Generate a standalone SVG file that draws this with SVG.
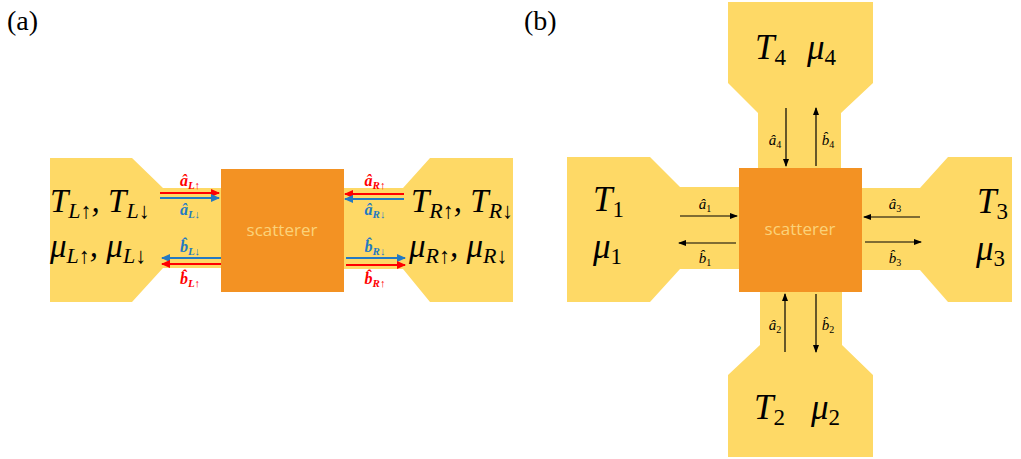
<svg xmlns="http://www.w3.org/2000/svg" width="1021" height="459" viewBox="0 0 1021 459">
<style>
.res{fill:#FED966;}
.sc{fill:#F39223;}
.sct{font-family:"Open Sans","Liberation Sans",sans-serif;font-size:17px;fill:#FBD27A;text-anchor:middle;}
.big{font-family:"Liberation Serif",serif;font-style:italic;font-size:33px;fill:#000;}
.bigb{font-family:"Liberation Serif",serif;font-style:italic;font-size:35px;fill:#000;}
.sub{font-size:22px;font-style:italic;}
.subn{font-size:23px;font-style:normal;}
.pl{font-family:"Liberation Serif",serif;font-size:28px;fill:#000;}
.la{font-family:"Liberation Serif",serif;font-style:italic;font-weight:bold;font-size:16px;text-anchor:middle;}
.la .s{font-size:11px;}
.red{fill:#FF0000;}
.blu{fill:#2479C2;}
.lb{font-family:"Liberation Serif",serif;font-style:italic;font-size:15px;fill:#000;text-anchor:middle;}
.lb .s{font-size:10px;font-style:normal;}
.ar{stroke-width:2;fill:none;}
.ak{stroke:#000;stroke-width:1.2;fill:none;marker-end:url(#mk);}
</style>
<defs>
<marker id="mr" markerUnits="userSpaceOnUse" markerWidth="10" markerHeight="8" refX="8" refY="4" orient="auto"><path d="M0,0 L9,4 L0,8 z" fill="#FF0000"/></marker>
<marker id="mb" markerUnits="userSpaceOnUse" markerWidth="10" markerHeight="8" refX="8" refY="4" orient="auto"><path d="M0,0 L9,4 L0,8 z" fill="#2479C2"/></marker>
<marker id="mk" markerUnits="userSpaceOnUse" markerWidth="8" markerHeight="6" refX="7" refY="3" orient="auto"><path d="M0,0 L8,3 L0,6 z" fill="#000"/></marker>
</defs>

<text class="pl" x="7" y="30">(a)</text>
<text class="pl" x="524" y="30">(b)</text>

<g id="a-left-reservoir">
<polygon class="res" points="50,158 132,158 163,188 223,188 223,268 163,268 132,302 50,302"/>
<text class="big" x="50" y="212">T<tspan class="sub" dy="6">L↑</tspan><tspan dy="-6">, T</tspan><tspan class="sub" dy="6">L↓</tspan></text>
<text class="big" x="50" y="257">μ<tspan class="sub" dy="6">L↑</tspan><tspan dy="-6">, μ</tspan><tspan class="sub" dy="6">L↓</tspan></text>
</g>
<g id="a-right-reservoir">
<polygon class="res" points="342,188 403,188 430,158 513,158 513,302 430,302 403,269 342,269"/>
<text class="big" x="411" y="212">T<tspan class="sub" dy="6">R↑</tspan><tspan dy="-6">, T</tspan><tspan class="sub" dy="6">R↓</tspan></text>
<text class="big" x="409" y="257">μ<tspan class="sub" dy="6">R↑</tspan><tspan dy="-6">, μ</tspan><tspan class="sub" dy="6">R↓</tspan></text>
</g>
<g id="a-scatterer">
<rect class="sc" x="221" y="169" width="123" height="123"/>
<text class="sct" x="282" y="236">scatterer</text>
</g>

<g id="b-left-reservoir">
<polygon class="res" points="567,157 650,157 680,187 741,187 741,269 680,269 650,302 567,302"/>
<text class="bigb" x="593" y="211">T<tspan class="subn" dy="6">1</tspan></text>
<text class="bigb" x="593" y="258">μ<tspan class="subn" dy="6">1</tspan></text>
</g>
<g id="b-right-reservoir">
<polygon class="res" points="860,188 920,188 948,157 1012,157 1012,302 948,302 920,270 860,270"/>
<text class="bigb" x="977" y="213">T<tspan class="subn" dy="6">3</tspan></text>
<text class="bigb" x="976" y="260">μ<tspan class="subn" dy="6">3</tspan></text>
</g>
<g id="b-top-reservoir">
<polygon class="res" points="728,2 873,2 873,83 841,113 841,170 758,170 758,113 728,83"/>
<text class="bigb" x="755" y="59">T<tspan class="subn" dy="6">4</tspan></text>
<text class="bigb" x="807" y="59">μ<tspan class="subn" dy="6">4</tspan></text>
</g>
<g id="b-bottom-reservoir">
<polygon class="res" points="760,290 842,290 842,345 873,375 873,457 728,457 728,375 760,345"/>
<text class="bigb" x="754" y="419">T<tspan class="subn" dy="6">2</tspan></text>
<text class="bigb" x="811" y="419">μ<tspan class="subn" dy="6">2</tspan></text>
</g>
<g id="b-scatterer">
<rect class="sc" x="739" y="168" width="123" height="124"/>
<text class="sct" x="800" y="235">scatterer</text>
</g>

<g id="connectors">
<line class="ar" stroke="#FF0000" marker-end="url(#mr)" x1="160" y1="193" x2="219" y2="193"/>
<line class="ar" stroke="#2479C2" marker-end="url(#mb)" x1="160" y1="198" x2="219" y2="198"/>
<line class="ar" stroke="#2479C2" marker-end="url(#mb)" x1="221" y1="258" x2="162" y2="258"/>
<line class="ar" stroke="#FF0000" marker-end="url(#mr)" x1="221" y1="264" x2="162" y2="264"/>
<line class="ar" stroke="#FF0000" marker-end="url(#mr)" x1="404" y1="194" x2="345" y2="194"/>
<line class="ar" stroke="#2479C2" marker-end="url(#mb)" x1="404" y1="199" x2="345" y2="199"/>
<line class="ar" stroke="#2479C2" marker-end="url(#mb)" x1="346" y1="258" x2="405" y2="258"/>
<line class="ar" stroke="#FF0000" marker-end="url(#mr)" x1="346" y1="265" x2="405" y2="265"/>

<line class="ak" x1="680" y1="216" x2="737" y2="216"/>
<line class="ak" x1="736" y1="243" x2="679" y2="243"/>
<line class="ak" x1="920" y1="217" x2="864" y2="217"/>
<line class="ak" x1="865" y1="242" x2="921" y2="242"/>
<line class="ak" x1="786" y1="108" x2="786" y2="166"/>
<line class="ak" x1="816" y1="166" x2="816" y2="108"/>
<line class="ak" x1="785" y1="352" x2="785" y2="294"/>
<line class="ak" x1="816" y1="294" x2="816" y2="352"/>
</g>

<g id="labels">
<text class="la red" x="190" y="186">â<tspan class="s" dy="3">L↑</tspan></text>
<text class="la blu" x="190" y="215">â<tspan class="s" dy="3">L↓</tspan></text>
<text class="la blu" x="190" y="252">b̂<tspan class="s" dy="3">L↓</tspan></text>
<text class="la red" x="190" y="284">b̂<tspan class="s" dy="3">L↑</tspan></text>
<text class="la red" x="375" y="186">â<tspan class="s" dy="3">R↑</tspan></text>
<text class="la blu" x="375" y="215">â<tspan class="s" dy="3">R↓</tspan></text>
<text class="la blu" x="375" y="252">b̂<tspan class="s" dy="3">R↓</tspan></text>
<text class="la red" x="375" y="284">b̂<tspan class="s" dy="3">R↑</tspan></text>

<text class="lb" x="705" y="209">â<tspan class="s" dy="3">1</tspan></text>
<text class="lb" x="705" y="263">b̂<tspan class="s" dy="3">1</tspan></text>
<text class="lb" x="895" y="209">â<tspan class="s" dy="3">3</tspan></text>
<text class="lb" x="895" y="263">b̂<tspan class="s" dy="3">3</tspan></text>
<text class="lb" x="775" y="145">â<tspan class="s" dy="3">4</tspan></text>
<text class="lb" x="828" y="145">b̂<tspan class="s" dy="3">4</tspan></text>
<text class="lb" x="775" y="330">â<tspan class="s" dy="3">2</tspan></text>
<text class="lb" x="828" y="330">b̂<tspan class="s" dy="3">2</tspan></text>
</g>
</svg>
